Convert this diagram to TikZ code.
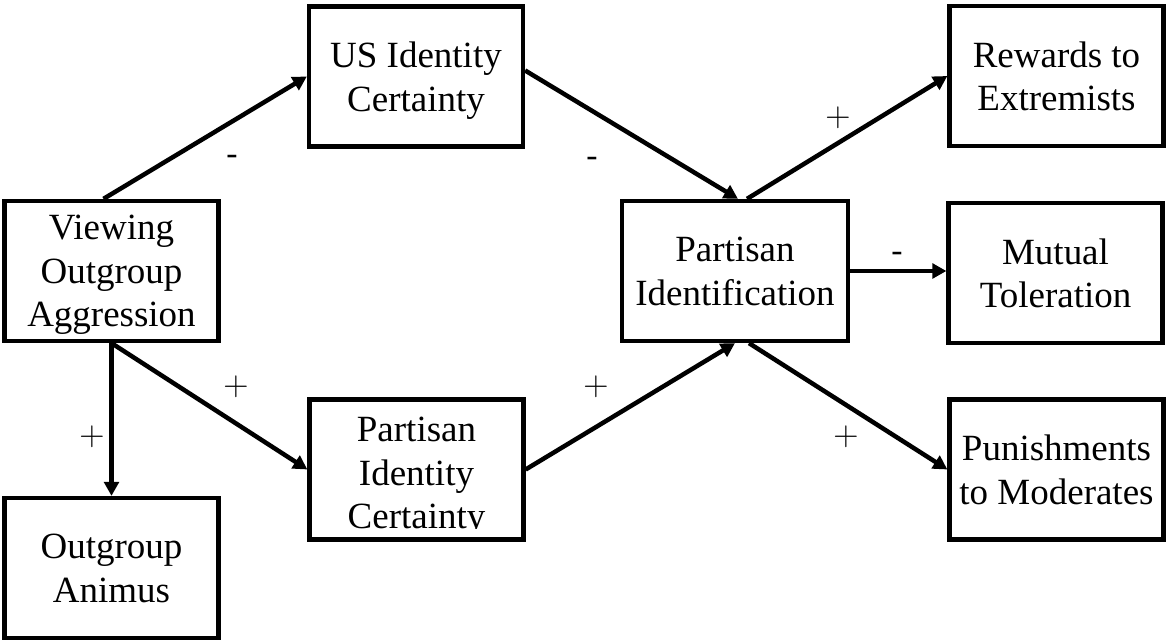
\documentclass[tikz,border=0pt]{standalone}
\usepackage{fontspec}
\setmainfont{Liberation Serif}
\usetikzlibrary{arrows.meta}
\usetikzlibrary{calc}

\begin{document}
\begin{tikzpicture}[x=0.025cm, y=-0.025cm,
  boxtext/.style={align=center, inner sep=0, font=\fontsize{26.3}{31}\selectfont},
  box/.style={boxtext, draw, line width=3pt, text depth=0pt, minimum width=5.35cm, minimum height=3.5cm},
  link/.style={line width=3.2pt, -{Triangle[length=10pt, width=10.5pt]}},
  sign/.style={inner sep=0, font=\fontsize{24}{28}\selectfont},
  possign/.style={inner sep=0, font=\fontsize{29}{33}\selectfont}]
\useasboundingbox (0,0) rectangle (1168,642);
\node[box] (view) at (111.5,271) {Viewing\\Outgroup\\Aggression};
\node[box] (usid) at (416,76.5) {US Identity\\Certainty};
\node[box] (ptid) at (416.5,469.5) {};
\begin{scope}
 \clip (ptid.north west) rectangle (526,528);
 \node[boxtext] (ptidtext) at (416.5,477) {Partisan\\Identity\\Certainty};
\end{scope}
\node[box] (anim) at (111.5,568) {Outgroup\\Animus};
\node[box, minimum width=5.65cm] (pid) at (735,271) {Partisan\\Identification};
\node[box] (rew) at (1056.5,76) {Rewards to\\Extremists};
\node[box] (mut) at (1055.5,273) {Mutual\\Toleration};
\node[box] (pun) at (1056.5,469.5) {Punishments\\to Moderates};

\draw[link] ($(view.north)+(-8,0)$) -- (usid.west);
\draw[link] ($(usid.east)+(0,-6)$) -- ($(pid.north)+(3,0)$);
\draw[link] ($(pid.north)+(12,0)$) -- (rew.west);
\draw[link] (pid.east) -- (pid.east -| mut.west);
\draw[link] ($(pid.south)+(14,0)$) -- (pun.west);
\draw[link] (ptid.east) -- (pid.south);
\draw[link] (view.south) -- (ptid.west);
\draw[link] (view.south) -- (anim.north);

\node[sign] (s1) at (232,160) {-};
\node[sign] (s2) at (592,162) {-};
\node[possign] (s3) at (236,387) {$+$};
\node[possign] (s4) at (92,437) {$+$};
\node[possign] (s5) at (596,387) {$+$};
\node[possign] (s6) at (838,118) {$+$};
\node[sign] (s7) at (897,257) {-};
\node[possign] (s8) at (846,437) {$+$};
\end{tikzpicture}
\end{document}
